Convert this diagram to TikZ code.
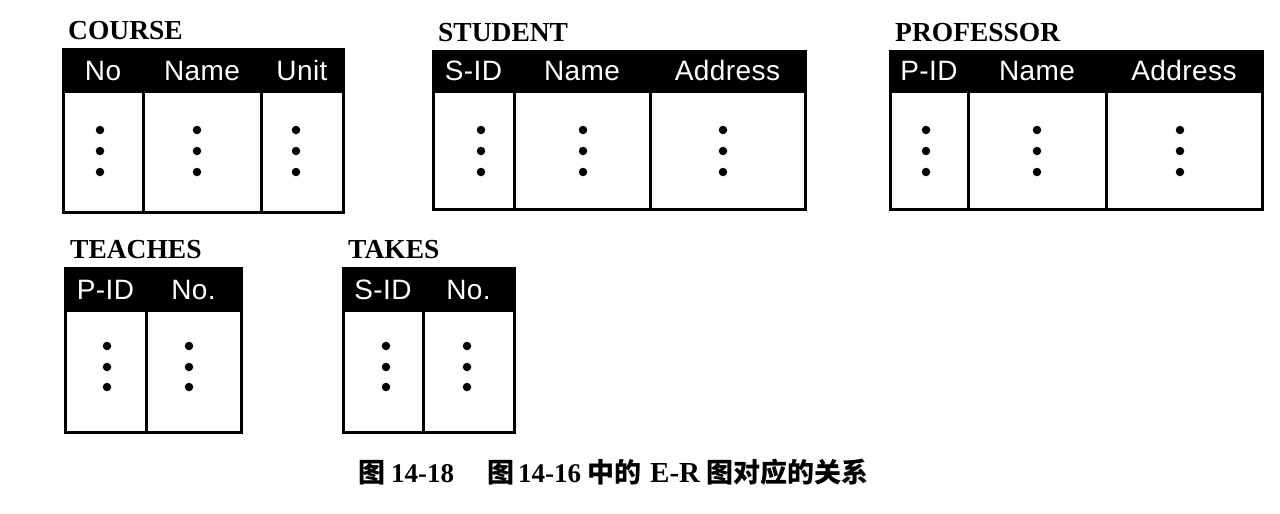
\documentclass[tikz,border=0pt]{standalone}
\usepackage{fontspec}
\setmainfont{Liberation Serif}
\setsansfont{Liberation Sans}[LetterSpace=1.5]
\newfontfamily\cjk{Noto Sans CJK SC}
\tikzset{
  ttl/.style={font=\bfseries\fontsize{27.5}{30}\selectfont, anchor=base west, inner sep=0pt},
  hdr/.style={font=\sffamily\fontsize{28}{30}\selectfont, text=white, anchor=base, inner sep=0pt},
  dotc/.style={circle, fill=black, inner sep=0pt, minimum size=8.5},
  frame/.style={line width=3},
  captext/.style={anchor=base west, inner sep=0pt},
}
\newcommand\ertable[7]{%
  % #1 id, #2 title, #3 xleft, #4 xright, #5 ytop, #6 yhead, #7 ybot
  \node[ttl] (#1-title) at ({#3+5},{#5-10}) {#2};
  \fill[black] (#3,#5) rectangle (#4,#6);
  \draw[frame] (#3,#5) rectangle (#4,#7);
}
\begin{document}
\begin{tikzpicture}[x=1pt,y=-1pt]
\useasboundingbox[fill=white] (0,0) rectangle (1280,514);

% COURSE
\ertable{course}{COURSE}{63}{343}{49}{93}{212}
\foreach \a/\b/\d/\t [count=\i] in {63/143/100/No,143/261/197/Name,261/343/296/Unit}{
  \node[hdr] (course-h\i) at ({(\a+\b)/2},80) {\t};
  \foreach \yy [count=\j] in {130,151,172}
    \node[dotc] (course-d\i-\j) at (\d,\yy) {};
}
\draw[frame] (143,93) -- (143,212) (261,93) -- (261,212);

% STUDENT
\ertable{student}{STUDENT}{433}{805}{51}{93}{209}
\foreach \a/\b/\d/\t [count=\i] in {433/514/481/S-ID,514/650/583/Name,650/805/723/Address}{
  \node[hdr] (student-h\i) at ({(\a+\b)/2},80) {\t};
  \foreach \yy [count=\j] in {130,151,172}
    \node[dotc] (student-d\i-\j) at (\d,\yy) {};
}
\draw[frame] (514,93) -- (514,209) (650,93) -- (650,209);

% PROFESSOR
\ertable{prof}{PROFESSOR}{890}{1262}{51}{93}{209}
\foreach \a/\b/\d/\t [count=\i] in {890/968/926/P-ID,968/1106/1037/Name,1106/1262/1180/Address}{
  \node[hdr] (prof-h\i) at ({(\a+\b)/2},80) {\t};
  \foreach \yy [count=\j] in {130,151,172}
    \node[dotc] (prof-d\i-\j) at (\d,\yy) {};
}
\draw[frame] (968,93) -- (968,209) (1106,93) -- (1106,209);

% TEACHES
\ertable{teaches}{TEACHES}{65}{241}{268}{312}{432}
\foreach \a/\b/\d/\t [count=\i] in {65/146/107/P-ID,146/241/189/No.}{
  \node[hdr] (teaches-h\i) at ({(\a+\b)/2},299) {\t};
  \foreach \yy [count=\j] in {346,367,387}
    \node[dotc] (teaches-d\i-\j) at (\d,\yy) {};
}
\draw[frame] (146,312) -- (146,432);

% TAKES
\ertable{takes}{TAKES}{343}{514}{268}{312}{432}
\foreach \a/\b/\d/\t [count=\i] in {343/423/386/S-ID,423/514/467/No.}{
  \node[hdr] (takes-h\i) at ({(\a+\b)/2},299) {\t};
  \foreach \yy [count=\j] in {346,367,387}
    \node[dotc] (takes-d\i-\j) at (\d,\yy) {};
}
\draw[frame] (423,312) -- (423,432);

% caption
\node[captext] (caption) at (358,482) {%
  \fontsize{27}{28}\selectfont
  {\cjk\bfseries 图}\hspace{6pt}{\bfseries\fontsize{27}{28}\selectfont 14-18}\hspace{33pt}%
  {\cjk\bfseries 图}\hspace{4pt}{\bfseries\fontsize{27}{28}\selectfont 14-16}\hspace{6pt}%
  {\cjk\bfseries 中的}\hspace{9pt}{\bfseries\fontsize{29}{28}\selectfont E-R}\hspace{6pt}%
  {\cjk\bfseries 图对应的关系}};
\end{tikzpicture}
\end{document}
